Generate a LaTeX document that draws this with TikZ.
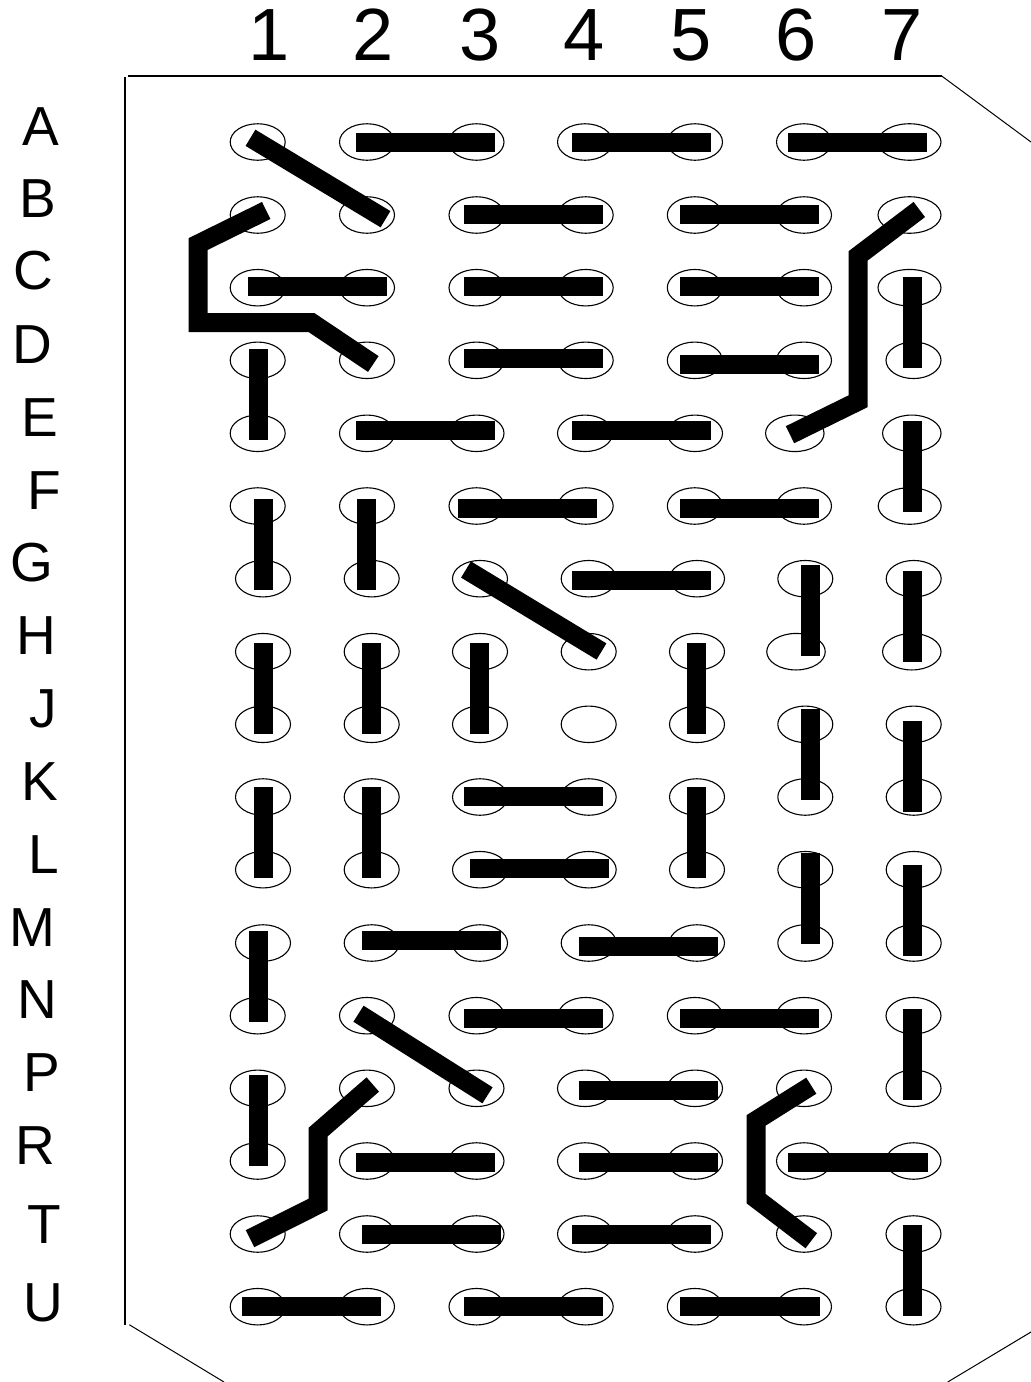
\documentclass[tikz,border=0pt]{standalone}
\usepackage{fontspec}
\setmainfont{Liberation Sans}
\usepackage{tikz}
\usetikzlibrary{shapes.geometric}

\begin{document}
\begin{tikzpicture}[
  x=1pt, y=-1pt,
  pad/.style={ellipse, draw, line width=1.1pt, inner sep=0pt, outer sep=0pt, minimum width=55pt, minimum height=36.5pt},
  widepad/.style={pad, minimum width=63pt},
  midpad/.style={pad, minimum width=58.5pt},
  trace/.style={line width=19pt},
  outline/.style={line width=1.5pt},
  chamfer/.style={line width=1pt},
  collabel/.style={anchor=base, inner sep=0pt, font=\fontsize{74}{88}\selectfont},
  rowlabel/.style={anchor=base, inner sep=0pt, font=\fontsize{55}{66}\selectfont}
]
\useasboundingbox (0,0) rectangle (1031,1382);

% board outline
\draw[outline] (128,76) -- (941.7,76);
\draw[outline] (125,77.3) -- (125,1325.3);
\draw[chamfer] (941.7,76) -- (1031,142);
\draw[chamfer] (129.3,1324.7) -- (224,1382);
\draw[chamfer] (947.7,1382) -- (1031,1332);

% column numbers
\node[collabel] (col1) at (269,60.5) {1};
\node[collabel] (col2) at (373,60.5) {2};
\node[collabel] (col3) at (480,60.5) {3};
\node[collabel] (col4) at (584,60.5) {4};
\node[collabel] (col5) at (691,60.5) {5};
\node[collabel] (col6) at (796.5,60.5) {6};
\node[collabel] (col7) at (902,60.5) {7};

% row letters
\node[rowlabel] (rowA) at (40.5,145.7) {A};
\node[rowlabel] (rowB) at (37.5,217) {B};
\node[rowlabel] (rowC) at (33.5,289) {C};
\node[rowlabel] (rowD) at (32.5,363) {D};
\node[rowlabel] (rowE) at (39.5,436) {E};
\node[rowlabel] (rowF) at (44,509) {F};
\node[rowlabel] (rowG) at (32,581) {G};
\node[rowlabel] (rowH) at (36,654.7) {H};
\node[rowlabel] (rowJ) at (43.5,727) {J};
\node[rowlabel] (rowK) at (39.5,800.7) {K};
\node[rowlabel] (rowL) at (44,873.3) {L};
\node[rowlabel] (rowM) at (32,946.3) {M};
\node[rowlabel] (rowN) at (37,1018.7) {N};
\node[rowlabel] (rowP) at (41.5,1091.3) {P};
\node[rowlabel] (rowR) at (35,1164.7) {R};
\node[rowlabel] (rowT) at (44,1243.7) {T};
\node[rowlabel] (rowU) at (43.5,1321) {U};

% pads, row by row
\node[pad] (A1) at (257.7,142) {}; \node[pad] (A2) at (367,142) {}; \node[pad] (A3) at (476.5,142) {}; \node[pad] (A4) at (585,142) {}; \node[pad] (A5) at (695,142) {}; \node[pad] (A6) at (804,142) {}; \node[widepad] (A7) at (909.5,142) {};
\node[pad] (B1) at (257.7,215) {}; \node[pad] (B2) at (367,215) {}; \node[pad] (B3) at (476.5,215) {}; \node[pad] (B4) at (585.7,215) {}; \node[pad] (B5) at (694.8,215) {}; \node[pad] (B6) at (804,215) {}; \node[widepad] (B7) at (909.5,215) {};
\node[pad] (C1) at (257.7,287.7) {}; \node[pad] (C2) at (367,287.7) {}; \node[pad] (C3) at (476.5,287.7) {}; \node[pad] (C4) at (585.7,287.7) {}; \node[pad] (C5) at (694.8,287.7) {}; \node[pad] (C6) at (804,287.7) {}; \node[widepad] (C7) at (909.5,287.7) {};
\node[pad] (D1) at (257.7,360.3) {}; \node[pad] (D2) at (367,360.3) {}; \node[pad] (D3) at (476.5,360.3) {}; \node[pad] (D4) at (585.7,360.3) {}; \node[pad] (D5) at (694.8,360.3) {}; \node[pad] (D6) at (804,360.3) {}; \node[pad] (D7) at (913.5,360.3) {};
\node[pad] (E1) at (257.7,433.3) {}; \node[pad] (E2) at (367,433.3) {}; \node[pad] (E3) at (476.5,433.3) {}; \node[pad] (E4) at (585,433.3) {}; \node[pad] (E5) at (695,433.3) {}; \node[midpad] (E6) at (794.8,433.3) {}; \node[midpad] (E7) at (911.8,433.3) {};
\node[pad] (F1) at (257.7,506) {}; \node[pad] (F2) at (367,506) {}; \node[pad] (F3) at (476.5,506) {}; \node[pad] (F4) at (585.7,506) {}; \node[pad] (F5) at (694.8,506) {}; \node[pad] (F6) at (804,506) {}; \node[widepad] (F7) at (909.7,506) {};
\node[pad] (G1) at (263,578.7) {}; \node[pad] (G2) at (371.7,578.7) {}; \node[pad] (G3) at (480,578.7) {}; \node[pad] (G4) at (588.7,578.7) {}; \node[pad] (G5) at (697,578.7) {}; \node[pad] (G6) at (805.3,578.7) {}; \node[pad] (G7) at (913.7,578.7) {};
\node[pad] (H1) at (263,651.7) {}; \node[pad] (H2) at (371.7,651.7) {}; \node[pad] (H3) at (480,651.7) {}; \node[pad] (H4) at (588.7,651.7) {}; \node[pad] (H5) at (697,651.7) {}; \node[midpad] (H6) at (796,651.7) {}; \node[midpad] (H7) at (911.8,651.7) {};
\node[pad] (J1) at (263,724.3) {}; \node[pad] (J2) at (371.7,724.3) {}; \node[pad] (J3) at (480,724.3) {}; \node[pad] (J4) at (588.7,724.3) {}; \node[pad] (J5) at (697,724.3) {}; \node[pad] (J6) at (805.3,724.3) {}; \node[pad] (J7) at (913.7,724.3) {};
\node[pad] (K1) at (263,797) {}; \node[pad] (K2) at (371.7,797) {}; \node[pad] (K3) at (480,797) {}; \node[pad] (K4) at (588.7,797) {}; \node[pad] (K5) at (697,797) {}; \node[pad] (K6) at (805.3,797) {}; \node[pad] (K7) at (913.7,797) {};
\node[pad] (L1) at (263,869.7) {}; \node[pad] (L2) at (371.7,869.7) {}; \node[pad] (L3) at (480,869.7) {}; \node[pad] (L4) at (588.7,869.7) {}; \node[pad] (L5) at (697,869.7) {}; \node[pad] (L6) at (805.3,869.7) {}; \node[pad] (L7) at (913.7,869.7) {};
\node[pad] (M1) at (263,943) {}; \node[pad] (M2) at (371.7,943) {}; \node[pad] (M3) at (480,943) {}; \node[pad] (M4) at (588.7,943) {}; \node[pad] (M5) at (697,943) {}; \node[pad] (M6) at (805.3,943) {}; \node[pad] (M7) at (913.7,943) {};
\node[pad] (N1) at (257.7,1015.7) {}; \node[pad] (N2) at (367,1015.7) {}; \node[pad] (N3) at (476.5,1015.7) {}; \node[pad] (N4) at (585.7,1015.7) {}; \node[pad] (N5) at (694.8,1015.7) {}; \node[pad] (N6) at (804,1015.7) {}; \node[pad] (N7) at (913.5,1015.7) {};
\node[pad] (P1) at (257.7,1088.3) {}; \node[pad] (P2) at (367,1088.3) {}; \node[pad] (P3) at (476.5,1088.3) {}; \node[pad] (P4) at (585,1088.3) {}; \node[pad] (P5) at (695,1088.3) {}; \node[pad] (P6) at (804,1088.3) {}; \node[pad] (P7) at (913.5,1088.3) {};
\node[pad] (R1) at (257.7,1161) {}; \node[pad] (R2) at (367,1161) {}; \node[pad] (R3) at (476.5,1161) {}; \node[pad] (R4) at (585,1161) {}; \node[pad] (R5) at (695,1161) {}; \node[pad] (R6) at (804,1161) {}; \node[pad] (R7) at (913.5,1161) {};
\node[pad] (T1) at (257.7,1234) {}; \node[pad] (T2) at (367,1234) {}; \node[pad] (T3) at (476.5,1234) {}; \node[pad] (T4) at (585,1234) {}; \node[pad] (T5) at (695,1234) {}; \node[pad] (T6) at (804,1234) {}; \node[pad] (T7) at (913.5,1234) {};
\node[pad] (U1) at (257.7,1306.7) {}; \node[pad] (U2) at (367,1306.7) {}; \node[pad] (U3) at (476.5,1306.7) {}; \node[pad] (U4) at (585.7,1306.7) {}; \node[pad] (U5) at (694.8,1306.7) {}; \node[pad] (U6) at (804,1306.7) {}; \node[pad] (U7) at (913.5,1306.7) {};

% bend points of the long traces
\coordinate (bendBa) at (198.2,244);
\coordinate (bendBb) at (198.2,322.7);
\coordinate (bendBc) at (311.7,322.7);
\coordinate (bendEa) at (858.2,255.8);
\coordinate (bendEb) at (858.2,401.2);
\coordinate (bendTa) at (318.2,1132);
\coordinate (bendTb) at (318.2,1204.5);
\coordinate (bendSa) at (756.2,1120.3);
\coordinate (bendSb) at (756.2,1198.7);

% traces
\draw[trace] ([shift={(-7.2,-4.2)}]A1.center) -- ([shift={(18.5,4.2)}]B2.center);
\draw[trace] ([shift={(-11,0.3)}]A2.center) -- ([shift={(18.5,0.3)}]A3.center);
\draw[trace] ([shift={(-13,0.3)}]A4.center) -- ([shift={(16,0.3)}]A5.center);
\draw[trace] ([shift={(-16,0.3)}]A6.center) -- ([shift={(17.5,0.3)}]A7.center);
\draw[trace] ([shift={(8.5,-4.5)}]B1.center) -- (bendBa) -- (bendBb) -- (bendBc) -- ([shift={(6.3,3.7)}]D2.center);
\draw[trace] ([shift={(-12.5,-0.5)}]B3.center) -- ([shift={(17.3,-0.5)}]B4.center);
\draw[trace] ([shift={(-14.8,-0.5)}]B5.center) -- ([shift={(15,-0.5)}]B6.center);
\draw[trace] ([shift={(9.8,-5.5)}]B7.center) -- (bendEa) -- (bendEb) -- ([shift={(-4.8,1.4)}]E6.center);
\draw[trace] ([shift={(-9.7,-1.2)}]C1.center) -- ([shift={(20,-1.2)}]C2.center);
\draw[trace] ([shift={(-12.5,-1.2)}]C3.center) -- ([shift={(17.3,-1.2)}]C4.center);
\draw[trace] ([shift={(-14.8,-1.2)}]C5.center) -- ([shift={(15,-1.2)}]C6.center);
\draw[trace] ([shift={(3,-10.7)}]C7.center) -- ([shift={(-1,7.7)}]D7.center);
\draw[trace] ([shift={(0.8,-11.3)}]D1.center) -- ([shift={(0.8,6.7)}]E1.center);
\draw[trace] ([shift={(-12.5,-1.8)}]D3.center) -- ([shift={(17.3,-1.8)}]D4.center);
\draw[trace] ([shift={(-14.8,4.2)}]D5.center) -- ([shift={(15,4.2)}]D6.center);
\draw[trace] ([shift={(-11,-2.8)}]E2.center) -- ([shift={(18.5,-2.8)}]E3.center);
\draw[trace] ([shift={(-13,-2.8)}]E4.center) -- ([shift={(16,-2.8)}]E5.center);
\draw[trace] ([shift={(0.7,-12.3)}]E7.center) -- ([shift={(2.8,6)}]F7.center);
\draw[trace] ([shift={(5.8,-7)}]F1.center) -- ([shift={(0.5,11.3)}]G1.center);
\draw[trace] ([shift={(-0.5,-7)}]F2.center) -- ([shift={(-5.2,11.3)}]G2.center);
\draw[trace] ([shift={(-18.5,2.5)}]F3.center) -- ([shift={(11.3,2.5)}]F4.center);
\draw[trace] ([shift={(-14.8,2.5)}]F5.center) -- ([shift={(15,2.5)}]F6.center);
\draw[trace] ([shift={(-14,-9.2)}]G3.center) -- ([shift={(12.8,-0.2)}]H4.center);
\draw[trace] ([shift={(-16.7,1.8)}]G4.center) -- ([shift={(14,1.8)}]G5.center);
\draw[trace] ([shift={(5.2,-13.7)}]G6.center) -- ([shift={(14.5,4.3)}]H6.center);
\draw[trace] ([shift={(-1.2,-7.7)}]G7.center) -- ([shift={(0.7,10.3)}]H7.center);
\draw[trace] ([shift={(0.5,-8.7)}]H1.center) -- ([shift={(0.5,9.7)}]J1.center);
\draw[trace] ([shift={(-0.2,-8.7)}]H2.center) -- ([shift={(-0.2,9.7)}]J2.center);
\draw[trace] ([shift={(-0.5,-8.7)}]H3.center) -- ([shift={(-0.5,9.7)}]J3.center);
\draw[trace] ([shift={(-0.5,-8.7)}]H5.center) -- ([shift={(-0.5,9.7)}]J5.center);
\draw[trace] ([shift={(5.2,-15.3)}]J6.center) -- ([shift={(5.2,3)}]K6.center);
\draw[trace] ([shift={(-1.2,-3.3)}]J7.center) -- ([shift={(-1.2,15)}]K7.center);
\draw[trace] ([shift={(0.5,-10)}]K1.center) -- ([shift={(0.5,8.3)}]L1.center);
\draw[trace] ([shift={(-0.2,-10)}]K2.center) -- ([shift={(-0.2,8.3)}]L2.center);
\draw[trace] ([shift={(-16,-0.5)}]K3.center) -- ([shift={(14.3,-0.5)}]K4.center);
\draw[trace] ([shift={(-0.5,-10)}]K5.center) -- ([shift={(-0.5,8.3)}]L5.center);
\draw[trace] ([shift={(-10,-1.2)}]L3.center) -- ([shift={(20.3,-1.2)}]L4.center);
\draw[trace] ([shift={(5.2,-16.7)}]L6.center) -- ([shift={(5.2,1)}]M6.center);
\draw[trace] ([shift={(-1.2,-4.7)}]L7.center) -- ([shift={(-1.2,13)}]M7.center);
\draw[trace] ([shift={(-4.5,-12)}]M1.center) -- ([shift={(0.8,6.3)}]N1.center);
\draw[trace] ([shift={(-9.7,-2.5)}]M2.center) -- ([shift={(21,-2.5)}]M3.center);
\draw[trace] ([shift={(-9.7,3.5)}]M4.center) -- ([shift={(21,3.5)}]M5.center);
\draw[trace] ([shift={(-8.5,-2)}]N2.center) -- ([shift={(11,7)}]P3.center);
\draw[trace] ([shift={(-12.5,2.8)}]N3.center) -- ([shift={(17.3,2.8)}]N4.center);
\draw[trace] ([shift={(-14.8,2.8)}]N5.center) -- ([shift={(15,2.8)}]N6.center);
\draw[trace] ([shift={(-1,-6.7)}]N7.center) -- ([shift={(-1,11.7)}]P7.center);
\draw[trace] ([shift={(0.8,-13.3)}]P1.center) -- ([shift={(0.8,5)}]R1.center);
\draw[trace] ([shift={(5.8,-3.8)}]P2.center) -- (bendTa) -- (bendTb) -- ([shift={(-7.7,4.7)}]T1.center);
\draw[trace] ([shift={(-6,2.2)}]P4.center) -- ([shift={(23,2.2)}]P5.center);
\draw[trace] ([shift={(7.3,-2.6)}]P6.center) -- (bendSa) -- (bendSb) -- ([shift={(7.3,6.7)}]T6.center);
\draw[trace] ([shift={(-11,1.5)}]R2.center) -- ([shift={(18.5,1.5)}]R3.center);
\draw[trace] ([shift={(-6,1.5)}]R4.center) -- ([shift={(23,1.5)}]R5.center);
\draw[trace] ([shift={(-16,1.5)}]R6.center) -- ([shift={(14.5,1.5)}]R7.center);
\draw[trace] ([shift={(-5,0.5)}]T2.center) -- ([shift={(24.5,0.5)}]T3.center);
\draw[trace] ([shift={(-13,0.5)}]T4.center) -- ([shift={(16,0.5)}]T5.center);
\draw[trace] ([shift={(-1,-9)}]T7.center) -- ([shift={(-1,9.3)}]U7.center);
\draw[trace] ([shift={(-15.7,-0.2)}]U1.center) -- ([shift={(14,-0.2)}]U2.center);
\draw[trace] ([shift={(-12.5,-0.2)}]U3.center) -- ([shift={(17.3,-0.2)}]U4.center);
\draw[trace] ([shift={(-14.8,-0.2)}]U5.center) -- ([shift={(16,-0.2)}]U6.center);
\end{tikzpicture}
\end{document}
